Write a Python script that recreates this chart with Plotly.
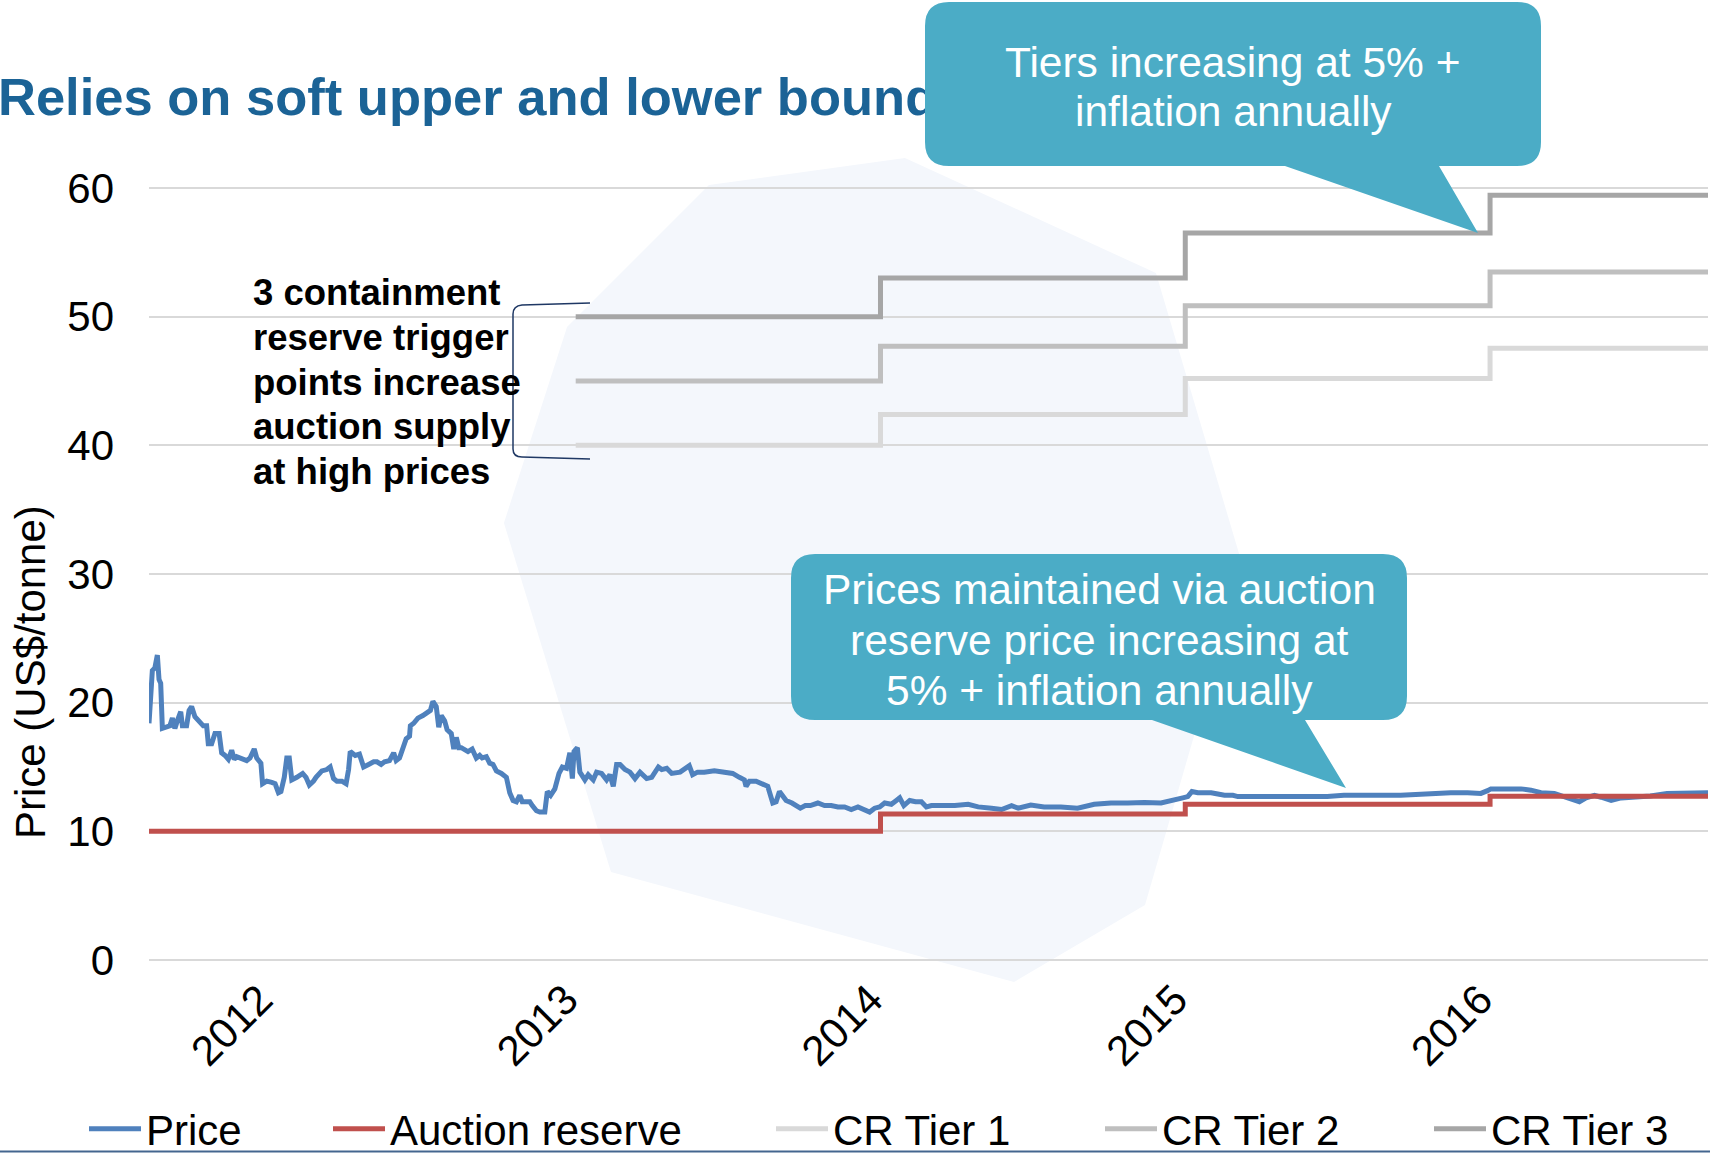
import plotly.graph_objects as go

W, H = 1710, 1153
FONT = "Liberation Sans, Arial, sans-serif"

# ---------------- data ----------------
price_dates = [
    "2011-08-09", "2011-08-11", "2011-08-13", "2011-08-16", "2011-08-19", "2011-08-21", "2011-08-23",
    "2011-08-25", "2011-08-28", "2011-09-03", "2011-09-06", "2011-09-09", "2011-09-12", "2011-09-16",
    "2011-09-18", "2011-09-23", "2011-09-26", "2011-09-29", "2011-10-03", "2011-10-08", "2011-10-13",
    "2011-10-17", "2011-10-19", "2011-10-23", "2011-10-27", "2011-11-01", "2011-11-04", "2011-11-08",
    "2011-11-12", "2011-11-16", "2011-11-19", "2011-11-22", "2011-11-28", "2011-12-04", "2011-12-08",
    "2011-12-13", "2011-12-16", "2011-12-21", "2011-12-23", "2011-12-28", "2012-01-03", "2012-01-07",
    "2012-01-11", "2012-01-14", "2012-01-18", "2012-01-21", "2012-01-24", "2012-01-27", "2012-02-02",
    "2012-02-09", "2012-02-13", "2012-02-17", "2012-02-22", "2012-02-25", "2012-03-03", "2012-03-09",
    "2012-03-13", "2012-03-17", "2012-03-21", "2012-03-27", "2012-04-01", "2012-04-04", "2012-04-06",
    "2012-04-12", "2012-04-17", "2012-04-22", "2012-04-28", "2012-05-04", "2012-05-08", "2012-05-13",
    "2012-05-17", "2012-05-23", "2012-05-28", "2012-05-31", "2012-06-04", "2012-06-08", "2012-06-12",
    "2012-06-16", "2012-06-17", "2012-06-21", "2012-06-26", "2012-07-02", "2012-07-06", "2012-07-11",
    "2012-07-14", "2012-07-18", "2012-07-21", "2012-07-24", "2012-07-28", "2012-07-31", "2012-08-05",
    "2012-08-08", "2012-08-11", "2012-08-14", "2012-08-17", "2012-08-21", "2012-08-25", "2012-08-30",
    "2012-09-04", "2012-09-08", "2012-09-11", "2012-09-16", "2012-09-20", "2012-09-24", "2012-09-28",
    "2012-10-04", "2012-10-10", "2012-10-14", "2012-10-18", "2012-10-22", "2012-10-26", "2012-10-29",
    "2012-11-03", "2012-11-07", "2012-11-10", "2012-11-15", "2012-11-19", "2012-11-25", "2012-11-28",
    "2012-12-02", "2012-12-07", "2012-12-12", "2012-12-16", "2012-12-21", "2012-12-25", "2012-12-28",
    "2012-12-30", "2013-01-03", "2013-01-06", "2013-01-12", "2013-01-16", "2013-01-22", "2013-01-26",
    "2013-02-01", "2013-02-07", "2013-02-11", "2013-02-15", "2013-02-19", "2013-02-23", "2013-03-01",
    "2013-03-07", "2013-03-13", "2013-03-19", "2013-03-27", "2013-04-02", "2013-04-10", "2013-04-14",
    "2013-04-20", "2013-04-26", "2013-05-06", "2013-05-17", "2013-05-21", "2013-05-27", "2013-06-04",
    "2013-06-16", "2013-06-28", "2013-07-08", "2013-07-16", "2013-07-22", "2013-07-24", "2013-07-28",
    "2013-08-05", "2013-08-13", "2013-08-19", "2013-08-25", "2013-08-29", "2013-09-02", "2013-09-06",
    "2013-09-10", "2013-09-17", "2013-09-22", "2013-09-27", "2013-10-03", "2013-10-09", "2013-10-18",
    "2013-10-26", "2013-11-03", "2013-11-11", "2013-11-19", "2013-11-27", "2013-12-05", "2013-12-13",
    "2013-12-19", "2013-12-25", "2013-12-31", "2014-01-06", "2014-01-14", "2014-01-20", "2014-01-24",
    "2014-01-29", "2014-02-05", "2014-02-12", "2014-02-19", "2014-02-25", "2014-03-03", "2014-03-15",
    "2014-03-31", "2014-04-16", "2014-04-28", "2014-05-14", "2014-05-26", "2014-06-07", "2014-06-15",
    "2014-06-30", "2014-07-16", "2014-08-05", "2014-08-25", "2014-09-14", "2014-10-04", "2014-10-24",
    "2014-11-13", "2014-12-03", "2014-12-19", "2014-12-29", "2015-01-04", "2015-01-09", "2015-01-16",
    "2015-02-01", "2015-02-09", "2015-02-17", "2015-02-27", "2015-03-05", "2015-03-21", "2015-04-10",
    "2015-05-04", "2015-06-01", "2015-06-20", "2015-07-10", "2015-08-07", "2015-08-27", "2015-09-16",
    "2015-10-10", "2015-10-26", "2015-11-15", "2015-12-05", "2015-12-21", "2015-12-29", "2016-01-02",
    "2016-01-22", "2016-02-07", "2016-02-19", "2016-03-02", "2016-03-18", "2016-03-30", "2016-04-09",
    "2016-04-17", "2016-04-25", "2016-05-05", "2016-05-13", "2016-05-25", "2016-06-06", "2016-06-21",
    "2016-07-11", "2016-07-31", "2016-08-20", "2016-09-09", "2016-09-18",
]
price_values = [
    18.4, 21.6, 22.5, 22.7, 23.7, 21.8, 21.5,
    18.0, 18.1, 18.2, 18.8, 18.0, 18.6, 19.3,
    18.2, 18.2, 19.4, 19.7, 18.9, 18.6, 18.2,
    18.2, 16.8, 16.8, 17.6, 17.6, 16.1, 15.9,
    15.6, 16.3, 15.6, 15.8, 15.7, 15.5, 15.7,
    16.4, 15.7, 15.3, 13.7, 13.9, 13.8, 13.7,
    13.0, 13.1, 14.2, 15.7, 15.7, 14.0, 14.2,
    14.5, 14.2, 13.6, 13.9, 14.2, 14.7, 14.8,
    15.0, 14.1, 13.9, 13.9, 13.7, 14.8, 16.2,
    15.9, 16.0, 15.0, 15.2, 15.4, 15.4, 15.2,
    15.4, 15.5, 16.1, 15.5, 15.7, 16.6, 17.2,
    17.4, 18.2, 18.4, 18.8, 19.0, 19.2, 19.4,
    20.1, 19.7, 18.1, 19.0, 18.6, 17.9, 17.6,
    16.4, 17.3, 16.5, 16.5, 16.3, 16.2, 16.4,
    15.7, 15.9, 15.7, 15.8, 15.3, 15.2, 14.7,
    14.5, 14.2, 13.0, 12.4, 12.3, 12.8, 12.3,
    12.3, 12.3, 12.0, 11.6, 11.5, 11.5, 13.1,
    12.8, 13.3, 14.5, 15.0, 14.9, 16.1, 14.1,
    16.2, 16.5, 14.6, 14.0, 14.4, 14.0, 14.6,
    14.5, 14.0, 14.4, 13.5, 15.2, 15.2, 14.8,
    14.6, 14.1, 14.6, 14.1, 14.2, 15.0, 14.8,
    14.9, 14.5, 14.6, 15.1, 14.4, 14.6, 14.6,
    14.7, 14.6, 14.5, 14.2, 14.0, 13.5, 13.9,
    13.9, 13.7, 13.5, 12.2, 12.3, 13.1, 12.8,
    12.4, 12.2, 12.0, 11.8, 12.0, 12.0, 12.2,
    12.0, 12.0, 11.9, 11.9, 11.7, 11.9, 11.7,
    11.5, 11.8, 11.9, 12.2, 12.1, 12.4, 12.6,
    12.0, 12.4, 12.3, 12.3, 11.9, 12.0, 12.0,
    12.0, 12.1, 11.9, 11.8, 11.7, 12.0, 11.8,
    12.05, 11.9, 11.9, 11.8, 12.1, 12.2, 12.2,
    12.25, 12.2, 12.4, 12.6, 12.7, 13.1, 13.0,
    13.0, 12.9, 12.8, 12.8, 12.7, 12.7, 12.7,
    12.7, 12.7, 12.7, 12.8, 12.75, 12.8, 12.8,
    12.9, 12.95, 13.0, 13.0, 12.95, 13.16, 13.3,
    13.3, 13.3, 13.2, 13.0, 12.95, 12.7, 12.5,
    12.3, 12.6, 12.8, 12.65, 12.4, 12.6, 12.65,
    12.75, 12.95, 13.0, 13.05, 13.0,
]

reserve_dates = ["2011-08-09", "2014-01-01", "2015-01-01", "2016-01-01", "2016-09-18"]
reserve_values = [10.00, 11.34, 12.10, 12.73, 12.73]

tier_dates = ["2013-01-01", "2014-01-01", "2015-01-01", "2016-01-01", "2016-09-18"]
tier1_values = [40.00, 42.40, 45.20, 47.54, 47.54]
tier2_values = [45.00, 47.70, 50.85, 53.48, 53.48]
tier3_values = [50.00, 53.00, 56.50, 59.43, 59.43]

year_ticks = ["2012-01-01", "2013-01-01", "2014-01-01", "2015-01-01", "2016-01-01"]
year_labels = ["2012", "2013", "2014", "2015", "2016"]
price_ticks = [0, 10, 20, 30, 40, 50, 60]

series_names = ["Price", "Auction reserve", "CR Tier 1", "CR Tier 2", "CR Tier 3"]
series_colors = ["#4F81BD", "#C0504D", "#D9D9D9", "#BFBFBF", "#A6A6A6"]

title_text = "Relies on soft upper and lower bounds"
bracket_lines = ["3 containment", "reserve trigger", "points increase", "auction supply", "at high prices"]
tier_callout_lines = ["Tiers increasing at 5% +", "inflation annually"]
reserve_callout_lines = ["Prices maintained via auction", "reserve price increasing at", "5% + inflation annually"]
y_title = "Price (US$/tonne)"

# ---------------- figure ----------------
legend_ids = ["legend", "legend2", "legend3", "legend4", "legend5"]
fig = go.Figure()

fig.add_trace(go.Scatter(x=price_dates, y=price_values, name=series_names[0], mode="lines",
                         line=dict(color=series_colors[0], width=5), legend=legend_ids[0]))
fig.add_trace(go.Scatter(x=reserve_dates, y=reserve_values, name=series_names[1], mode="lines",
                         line=dict(color=series_colors[1], width=5, shape="hv"), legend=legend_ids[1]))
for i, vals in enumerate([tier1_values, tier2_values, tier3_values]):
    fig.add_trace(go.Scatter(x=tier_dates, y=vals, name=series_names[2 + i], mode="lines",
                             line=dict(color=series_colors[2 + i], width=5, shape="hv"),
                             legend=legend_ids[2 + i]))

# title text on a pixel-space overlay so the callout can cover its end
fig.add_trace(go.Scatter(x=[-2], y=[102], mode="text", text=[title_text], textposition="middle right",
                         textfont=dict(family=FONT, size=52.5, color="#1B6396", weight="bold"),
                         xaxis="x2", yaxis="y2", showlegend=False, hoverinfo="skip"))

def callout_path(x0, y0, x1, y1, r, tail_left, tail_right, tip):
    return (f"M{x0 + r},{y0} L{x1 - r},{y0} Q{x1},{y0} {x1},{y0 + r} L{x1},{y1 - r} "
            f"Q{x1},{y1} {x1 - r},{y1} L{tail_right},{y1} L{tip[0]},{tip[1]} L{tail_left},{y1} "
            f"L{x0 + r},{y1} Q{x0},{y1} {x0},{y1 - r} L{x0},{y0 + r} Q{x0},{y0} {x0 + r},{y0} Z")

def paper_path(pts):
    return "M" + " L".join(f"{x / W:.4f},{1 - y / H:.4f}" for x, y in pts) + " Z"

watermark = [(709, 185), (905, 158), (1156, 273), (1243, 567), (1145, 905), (1014, 982),
             (611, 872), (504, 523), (567, 327)]

shapes = [
    dict(type="path", xref="paper", yref="paper", layer="below", path=paper_path(watermark),
         fillcolor="#F4F7FC", line=dict(width=0)),
    dict(type="path", xref="x2", yref="y2", layer="above",
         path=callout_path(925, 2, 1541, 166, 24, 1285, 1439, (1478, 233)),
         fillcolor="#4BACC6", line=dict(width=0)),
    dict(type="path", xref="x2", yref="y2", layer="above",
         path=callout_path(791, 554, 1407, 720, 24, 1152, 1305, (1346, 788)),
         fillcolor="#4BACC6", line=dict(width=0)),
    dict(type="path", xref="x2", yref="y2", layer="above",
         path="M590,303 L522,305 Q513,306 513,314 L513,449 Q513,457 522,457 L590,459",
         line=dict(color="#1F3864", width=1.5)),
    dict(type="line", xref="x2", yref="y2", layer="above", x0=0, x1=W, y0=1151.5, y1=1151.5,
         line=dict(color="#44668F", width=2)),
]

annotations = []
for text, yy in zip(tier_callout_lines, [62, 111]):
    annotations.append(dict(xref="x2", yref="y2", x=1233, y=yy, text=text, showarrow=False,
                            font=dict(family=FONT, size=42.5, color="white")))
for text, yy in zip(reserve_callout_lines, [589, 640, 690]):
    annotations.append(dict(xref="x2", yref="y2", x=1099, y=yy, text=text, showarrow=False,
                            font=dict(family=FONT, size=42.5, color="white")))
for text, yy in zip(bracket_lines, [292, 337, 382, 426, 471]):
    annotations.append(dict(xref="x2", yref="y2", x=251, y=yy, text=text, showarrow=False,
                            xanchor="left", align="left",
                            font=dict(family=FONT, size=36.5, color="black", weight="bold")))
annotations.append(dict(xref="x2", yref="y2", x=30, y=672, text=y_title, showarrow=False, textangle=-90,
                        font=dict(family=FONT, size=42, color="black")))

legend_left = [84, 328, 771, 1100, 1429]
legend_cfg = {}
for i, lid in enumerate(legend_ids):
    legend_cfg[lid] = dict(x=legend_left[i] / W, y=1 - 1129 / H, xanchor="left", yanchor="middle",
                           orientation="h", bgcolor="rgba(0,0,0,0)", borderwidth=0, itemwidth=52,
                           font=dict(family=FONT, size=42, color="black"))

fig.update_layout(
    width=W, height=H, autosize=False,
    margin=dict(l=0, r=0, t=0, b=0, pad=0, autoexpand=False),
    paper_bgcolor="white", plot_bgcolor="rgba(0,0,0,0)",
    font=dict(family=FONT, color="black"),
    showlegend=True,
    shapes=shapes, annotations=annotations,
    xaxis=dict(type="date", domain=[149 / W, 1708 / W], range=["2011-08-09", "2016-09-18"],
               tickvals=year_ticks, ticktext=year_labels, tickangle=-45,
               tickfont=dict(family=FONT, size=42, color="black"), automargin=False,
               showgrid=False, zeroline=False, showline=False, ticks="",
               ticklabelstandoff=4, ticklabelshift=-10),
    yaxis=dict(domain=[1 - 961.3 / H, 1 - 186.7 / H], range=[-0.1, 60.1], tickvals=price_ticks,
               tickfont=dict(family=FONT, size=42, color="black"), automargin=False,
               showgrid=True, gridcolor="#D9D9D9", gridwidth=2, zeroline=False, showline=False,
               ticks="", ticklabelstandoff=34),
    xaxis2=dict(domain=[0, 1], range=[0, W], visible=False, anchor="y2", fixedrange=True),
    yaxis2=dict(domain=[0, 1], range=[H, 0], visible=False, anchor="x2", fixedrange=True),
    **legend_cfg,
)

fig.write_html("out.html", config={"displayModeBar": False},
               post_script="document.body.style.margin='0';document.body.style.overflow='hidden';")
